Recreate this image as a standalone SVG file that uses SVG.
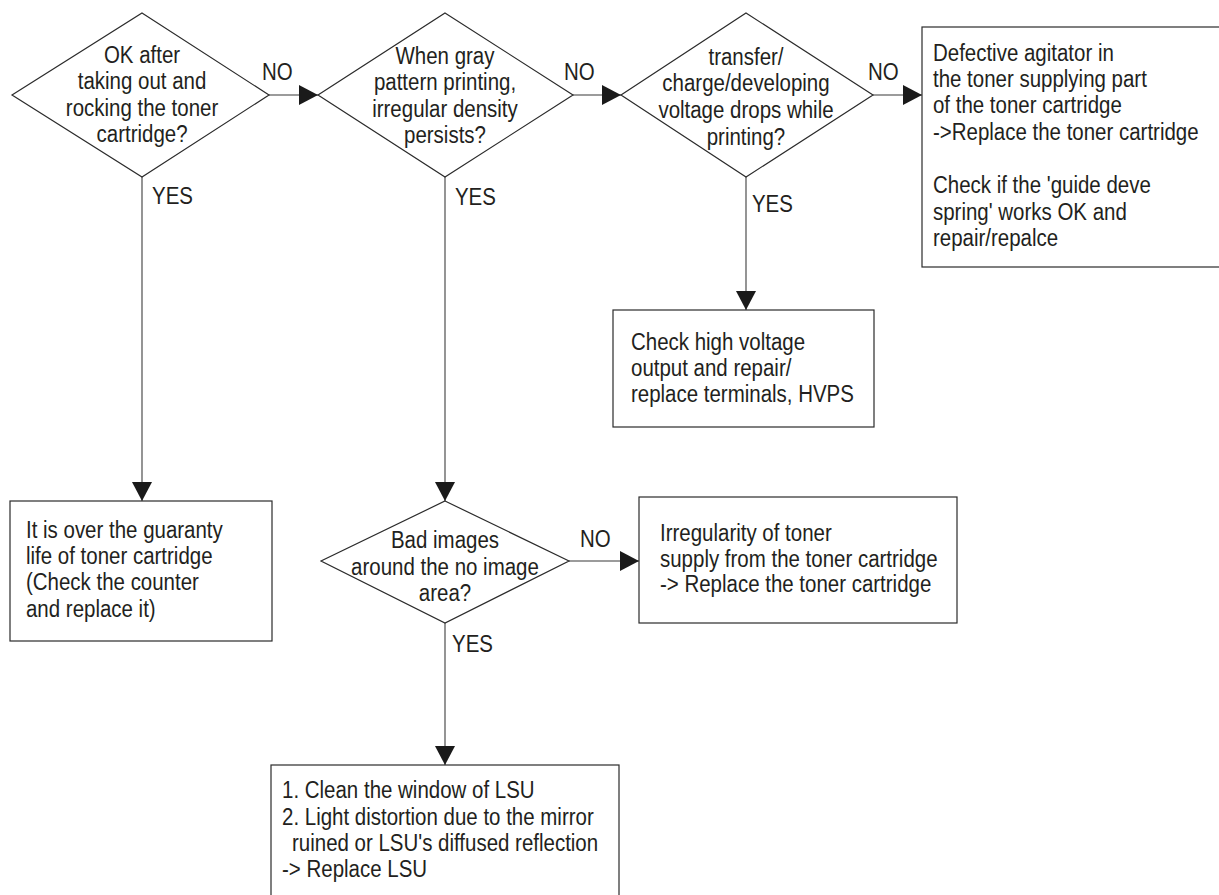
<svg xmlns="http://www.w3.org/2000/svg" width="1219" height="895" viewBox="0 0 1219 895">
<style>
.bg{fill:#ffffff}
.shape{fill:#ffffff;stroke:#2b2b2b;stroke-width:1.2}
.conn{fill:none;stroke:#7a7a7a;stroke-width:1.6}
.t{font-family:"Liberation Sans",Arial,sans-serif;font-size:23px;fill:#231f20;transform:scaleX(0.89)}
.c{text-anchor:middle}
</style>
<defs>
<marker id="ah" viewBox="0 0 20 20" markerWidth="20" markerHeight="20" refX="19" refY="10" orient="auto" markerUnits="userSpaceOnUse">
<path d="M0,0 L19,10 L0,20 z" fill="#1a1a1a"/>
</marker>
</defs>
<rect class="bg" x="0" y="0" width="1219" height="895"/>

<g id="connectors">
<line class="conn" x1="269" y1="95" x2="318" y2="95" marker-end="url(#ah)"/>
<line class="conn" x1="573" y1="95" x2="621" y2="95" marker-end="url(#ah)"/>
<line class="conn" x1="873" y1="95" x2="922" y2="95" marker-end="url(#ah)"/>
<line class="conn" x1="142" y1="177" x2="142" y2="501" marker-end="url(#ah)"/>
<line class="conn" x1="445" y1="177" x2="445" y2="501" marker-end="url(#ah)"/>
<line class="conn" x1="746" y1="177" x2="746" y2="310" marker-end="url(#ah)"/>
<line class="conn" x1="569" y1="561" x2="639" y2="561" marker-end="url(#ah)"/>
<line class="conn" x1="445" y1="623" x2="445" y2="765" marker-end="url(#ah)"/>
<text class="t" x="294.4" y="80">NO</text>
<text class="t" x="633.7" y="80">NO</text>
<text class="t" x="975.3" y="80">NO</text>
<text class="t" x="651.7" y="547">NO</text>
<text class="t" x="170.8" y="204">YES</text>
<text class="t" x="511.2" y="205">YES</text>
<text class="t" x="844.9" y="212">YES</text>
<text class="t" x="507.9" y="652">YES</text>
</g>

<g id="d1">
<polygon class="shape" points="142,13 269,95 142,177 12,95"/>
<text class="t c"><tspan x="159.6" y="63">OK after</tspan><tspan x="159.6" y="89.5">taking out and</tspan><tspan x="159.6" y="116">rocking the toner</tspan><tspan x="159.6" y="142">cartridge?</tspan></text>
</g>

<g id="d2">
<polygon class="shape" points="445,13 573,95 445,177 318,95"/>
<text class="t c"><tspan x="500" y="64">When gray</tspan><tspan x="500" y="90.5">pattern printing,</tspan><tspan x="500" y="117">irregular density</tspan><tspan x="500" y="143">persists?</tspan></text>
</g>

<g id="d3">
<polygon class="shape" points="746,13 873,95 746,177 621,95"/>
<text class="t c"><tspan x="838.2" y="65">transfer/</tspan><tspan x="838.2" y="91.5">charge/developing</tspan><tspan x="838.2" y="118.5">voltage drops while</tspan><tspan x="838.2" y="145">printing?</tspan></text>
</g>

<g id="box-agitator">
<rect class="shape" x="922" y="27" width="310" height="240"/>
<text class="t"><tspan x="1048.3" y="61">Defective agitator in</tspan><tspan x="1048.3" y="87">the toner supplying part</tspan><tspan x="1048.3" y="113.5">of the toner cartridge</tspan><tspan x="1048.3" y="140">-&gt;Replace the toner cartridge</tspan><tspan x="1048.3" y="193">Check if the 'guide deve</tspan><tspan x="1048.3" y="220">spring' works OK and</tspan><tspan x="1048.3" y="246.5">repair/repalce</tspan></text>
</g>

<g id="box-hvps">
<rect class="shape" x="613" y="310" width="261" height="117"/>
<text class="t"><tspan x="709" y="350">Check high voltage</tspan><tspan x="709" y="376.5">output and repair/</tspan><tspan x="709" y="402.5">replace terminals, HVPS</tspan></text>
</g>

<g id="box-guaranty">
<rect class="shape" x="10" y="501" width="262" height="140"/>
<text class="t"><tspan x="29.2" y="538">It is over the guaranty</tspan><tspan x="29.2" y="564">life of toner cartridge</tspan><tspan x="29.2" y="590.5">(Check the counter</tspan><tspan x="29.2" y="617">and replace it)</tspan></text>
</g>

<g id="d4">
<polygon class="shape" points="445,501 569,561 445,623 321,561"/>
<text class="t c"><tspan x="500" y="548">Bad images</tspan><tspan x="500" y="575">around the no image</tspan><tspan x="500" y="601">area?</tspan></text>
</g>

<g id="box-supply">
<rect class="shape" x="639" y="497" width="318" height="126"/>
<text class="t"><tspan x="741.6" y="541">Irregularity of toner</tspan><tspan x="741.6" y="567">supply from the toner cartridge</tspan><tspan x="741.6" y="592.5">-&gt; Replace the toner cartridge</tspan></text>
</g>

<g id="box-lsu">
<rect class="shape" x="271" y="765" width="348" height="140"/>
<text class="t"><tspan x="316.9" y="798">1. Clean the window of LSU</tspan><tspan x="316.9" y="825">2. Light distortion due to the mirror</tspan><tspan x="328.1" y="851">ruined or LSU's diffused reflection</tspan><tspan x="316.9" y="877">-&gt; Replace LSU</tspan></text>
</g>
</svg>
